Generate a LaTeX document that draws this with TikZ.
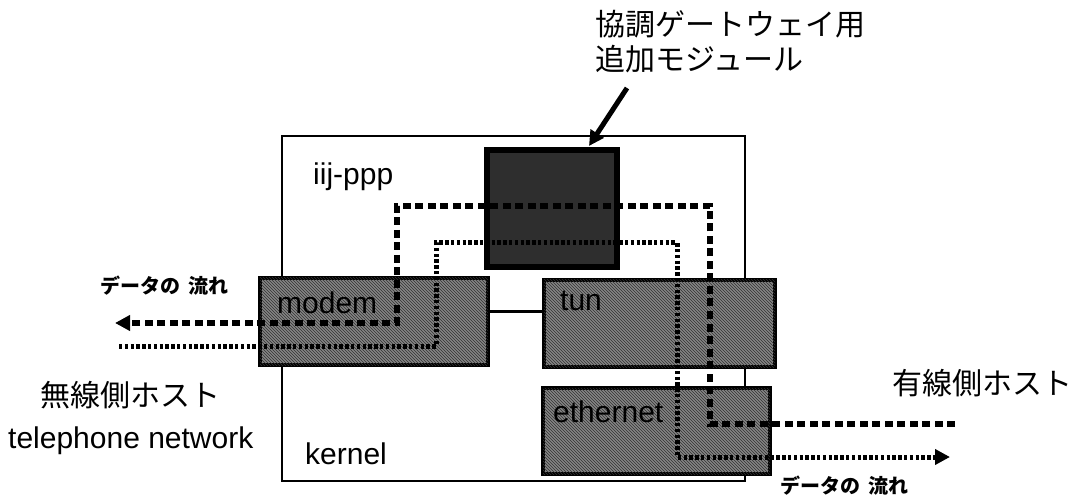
\documentclass[tikz,border=0pt]{standalone}
\usepackage{fontspec}
\setmainfont{Liberation Sans}
\newfontfamily\jpfont{Noto Sans CJK JP}
\usetikzlibrary{arrows.meta,patterns}
\begin{document}
\begin{tikzpicture}[x=1pt,y=-1pt,
  box/.style={draw=black, line width=4.5pt, fill=black!48, rectangle, inner sep=0pt, outer sep=0pt,
    postaction={pattern=north west lines, pattern color=black!80}},
  blackbox/.style={draw=black, line width=6pt, fill=black!82, rectangle, inner sep=0pt, outer sep=0pt},
  kernelbox/.style={draw=black, line width=2.5pt, fill=white, rectangle, inner sep=0pt, outer sep=0pt},
  lbl/.style={font=\fontsize{30}{34}\selectfont, inner sep=0pt, anchor=base west},
  jlbl/.style={font=\jpfont\fontsize{30}{34}\selectfont, inner sep=0pt, anchor=base west},
  jsmall/.style={font=\jpfont\bfseries\fontsize{20}{24}\selectfont, inner sep=0pt, anchor=base west},
  dashflow/.style={line width=5.5pt, dash pattern=on 8pt off 4.5pt, line join=miter},
  dotflow/.style={line width=5pt, dash pattern=on 3.4pt off 2.4pt, line join=miter},
  tip/.style={-{Triangle[length=15pt,width=15pt]}}
]
\useasboundingbox (0,0) rectangle (1077,497);

% kernel frame
\node[kernelbox, minimum width=463pt, minimum height=345pt] (kernel) at (513.5,308.5) {};

% modules
\node[box, minimum width=228pt, minimum height=87pt] (modem) at (374,321.5) {};
\node[box, minimum width=231pt, minimum height=87pt] (tun) at (659.5,323.5) {};
\node[box, minimum width=227pt, minimum height=86pt] (ethernet) at (656.5,431) {};
\node[blackbox, minimum width=130pt, minimum height=117pt] (gw) at (552,208.5) {};
\draw[line width=2.5pt] ([yshift=10pt]modem.east) -- ([yshift=10pt]modem.east -| tun.west);

% flow paths
\coordinate (dR) at (955,424);
\coordinate (dL) at (115,323);
\draw[dashflow, tip] (dR) -- (710,424) -- (710,206) -- (397,206) -- (397,323) -- (dL);
\coordinate (pL) at (119,346);
\coordinate (pR) at (950,457);
\draw[dotflow, tip] (pL) -- (436,346) -- (436,243) -- (677,243) -- (677,457) -- (pR);

% labels inside
\node[lbl] (tiij) at (313,185) {iij-ppp};
\node[lbl] (tmodem) at (277,313) {modem};
\node[lbl] (ttun) at (560,310) {tun};
\node[lbl] (teth) at (553,422) {ethernet};
\node[lbl] (tkern) at (305,464) {kernel};

% outside labels
\node[jlbl] (top1) at (595,36) {協調ゲートウェイ用};
\node[jlbl] (top2) at (595,71) {追加モジュール};
\coordinate (ptrA) at (627,88);
\coordinate (ptrB) at (589,146);
\draw[line width=5pt, -{Triangle[length=15pt,width=15pt]}] (ptrA) -- (ptrB);

\node[jlbl] (wless) at (40,406) {無線側ホスト};
\node[lbl] (tel) at (8,448) {telephone network};
\node[jlbl] (wired) at (892,394) {有線側ホスト};
\node[jsmall] (flow1) at (100,294) {データの\hspace{8pt}流れ};
\node[jsmall] (flow2) at (780,493) {データの\hspace{8pt}流れ};
\end{tikzpicture}
\end{document}
